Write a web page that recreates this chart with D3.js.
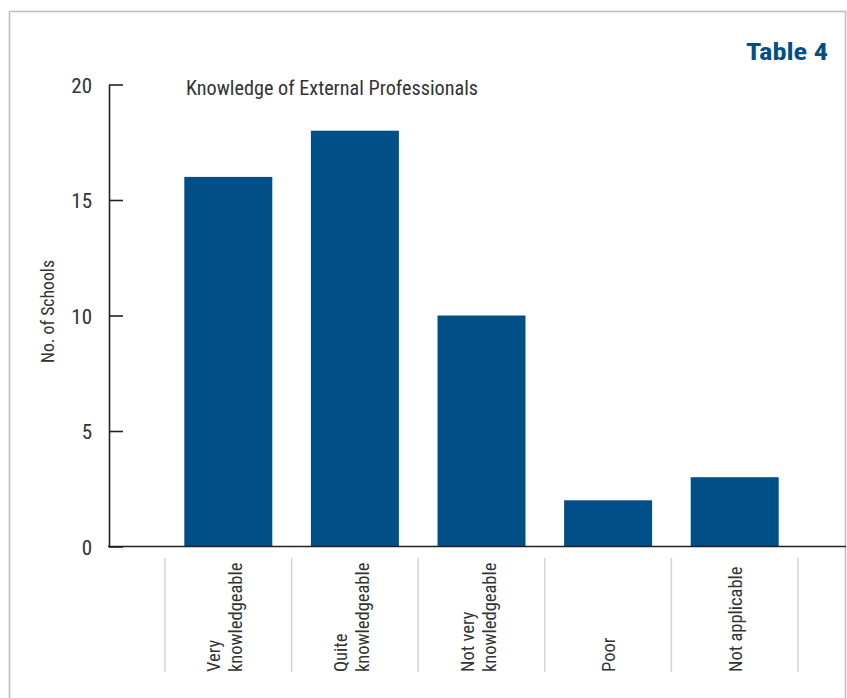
<!DOCTYPE html>
<html>
<head>
<meta charset="utf-8">
<script src="https://cdn.jsdelivr.net/npm/d3@7"></script>
<style>
  html, body { margin: 0; padding: 0; background: #fff; }
  svg text { font-family: "Liberation Sans Narrow", "Arial Narrow", "Roboto", sans-serif; font-stretch: condensed; }
</style>
</head>
<body>
<svg id="chart" width="847" height="698"></svg>
<script>
// Survey responses: how knowledgeable external professionals were judged to be
const categories = [
  ["Very", "knowledgeable"],
  ["Quite", "knowledgeable"],
  ["Not very", "knowledgeable"],
  ["Poor"],
  ["Not applicable"]
];
const schools = [16, 18, 10, 2, 3];
const yTicks = [0, 5, 10, 15, 20];

const chartTitle = "Knowledge of External Professionals";
const tableLabel = "Table 4";
const yAxisLabel = "No. of Schools";

const blue = "#004f88";
const ink = "#333";

const svg = d3.select("#chart");
const keys = categories.map(c => c.join(" "));

// panel frame
svg.append("rect")
  .attr("x", 9.5).attr("y", 11.5)
  .attr("width", 836).attr("height", 700)
  .attr("fill", "none").attr("stroke", "#bdbdbd").attr("stroke-width", 1.5);

const y = d3.scaleLinear().domain([0, 20]).range([546.5, 84.5]);
const x = d3.scaleBand().domain(keys).range([165, 798])
  .paddingInner(0.305).paddingOuter(0.1525);

// bars
svg.append("g").selectAll("rect")
  .data(schools)
  .join("rect")
  .attr("x", (d, i) => x(keys[i]))
  .attr("y", d => y(d))
  .attr("width", x.bandwidth())
  .attr("height", d => y(0) - y(d))
  .attr("fill", blue);

// y axis with ticks pointing inward
const yAxis = d3.axisLeft(y).tickValues(yTicks)
  .tickSizeInner(-14).tickSizeOuter(0).tickPadding(17);
const gy = svg.append("g").attr("transform", "translate(109,0)").call(yAxis);
gy.select(".domain").attr("stroke", "#222").attr("stroke-width", 1.6);
gy.selectAll(".tick line").attr("stroke", "#222").attr("stroke-width", 1.6);
gy.selectAll(".tick text")
  .attr("fill", ink).style("font-size", "21px")
  .attr("dy", "0.36em");

// baseline
svg.append("line")
  .attr("x1", 108).attr("x2", 846)
  .attr("y1", y(0)).attr("y2", y(0))
  .attr("stroke", "#222").attr("stroke-width", 1.6);

// category separators
const bounds = keys.map(k => x(k) - (x.step() - x.bandwidth()) / 2)
  .concat([x(keys[keys.length - 1]) + x.bandwidth() + (x.step() - x.bandwidth()) / 2]);
svg.append("g").selectAll("line")
  .data(bounds)
  .join("line")
  .attr("x1", d => d).attr("x2", d => d)
  .attr("y1", 558).attr("y2", 672)
  .attr("stroke", "#d3d3d3").attr("stroke-width", 1.5);

// rotated category labels, reading upward from the bottom
const lineGap = 22;
const labels = svg.append("g").selectAll("g")
  .data(categories)
  .join("g")
  .attr("transform", (d, i) => {
    const cx = x(keys[i]) + x.bandwidth() / 2 - (d.length > 1 ? 4 : 0);
    return `translate(${cx},672) rotate(-90)`;
  });
labels.each(function(lines) {
  const g = d3.select(this);
  const n = lines.length;
  lines.forEach((t, j) => {
    g.append("text")
      .attr("x", 0)
      .attr("y", (j - (n - 1) / 2) * lineGap + 7)
      .attr("text-anchor", "start")
      .attr("fill", ink)
      .style("font-size", "18.5px")
      .text(t);
  });
});

// headings
svg.append("text")
  .attr("x", 186).attr("y", 95)
  .attr("fill", ink).style("font-size", "20.5px")
  .attr("textLength", 292).attr("lengthAdjust", "spacingAndGlyphs")
  .text(chartTitle);

svg.append("text")
  .attr("x", 746).attr("y", 60)
  .attr("fill", blue).style("font-size", "24px").style("font-weight", "bold")
  .attr("textLength", 82).attr("lengthAdjust", "spacingAndGlyphs")
  .text(tableLabel);

svg.append("text")
  .attr("transform", "translate(54,363) rotate(-90)")
  .attr("fill", ink).style("font-size", "17.5px")
  .attr("textLength", 103).attr("lengthAdjust", "spacingAndGlyphs")
  .text(yAxisLabel);
</script>
</body>
</html>
